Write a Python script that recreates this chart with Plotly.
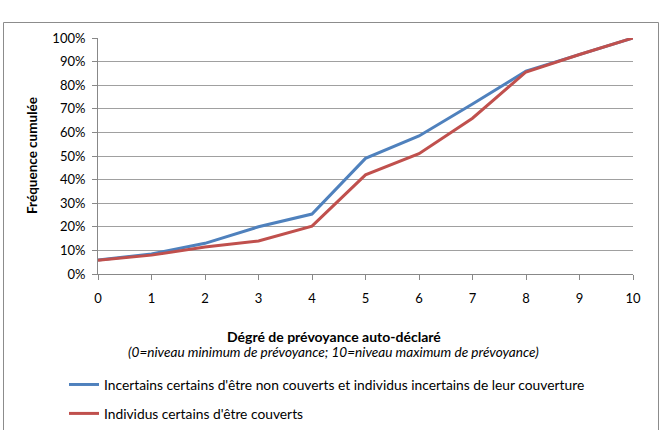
import plotly.graph_objects as go

x_vals = [0, 1, 2, 3, 4, 5, 6, 7, 8, 9, 10]
incertains = [5.9, 8.5, 13.0, 20.0, 25.4, 49.0, 58.5, 72.0, 86.0, 93.0, 100.0]
certains = [5.8, 8.0, 11.4, 14.0, 20.3, 42.0, 51.0, 66.0, 85.6, 93.0, 100.0]
name_incertains = "Incertains certains d'être non couverts et individus incertains de leur couverture"
name_certains = "Individus certains d'être couverts"
y_ticks = list(range(0, 101, 10))
y_ticklabels = [f"{v}%" for v in y_ticks]

FONT = "Lato"
W, H = 662, 430
L, R, T, B = 98, 633, 38, 274

fig = go.Figure()
fig.add_trace(go.Scatter(x=x_vals, y=incertains, mode="lines", name=name_incertains,
                         line=dict(color="#4F81BD", width=3), legendgroup="a"))
fig.add_trace(go.Scatter(x=x_vals, y=certains, mode="lines", name=name_certains,
                         line=dict(color="#C0504D", width=3), legendgroup="b"))

pw, ph = R - L, B - T
def px(xp):
    return (xp - L) / pw
def py(yp):
    return (B - yp) / ph

fig.update_layout(
    width=W, height=H,
    margin=dict(l=L, r=W - R, t=T, b=H - B, pad=0, autoexpand=False),
    paper_bgcolor="white", plot_bgcolor="white",
    font=dict(family=FONT, size=13, color="#000"),
    showlegend=True,
    legend=dict(x=px(64), y=py(369), xanchor="left", yanchor="top",
                orientation="v", itemwidth=30, tracegroupgap=8,
                font=dict(family=FONT, size=13.8), bgcolor="rgba(0,0,0,0)"),
    xaxis=dict(range=[0, 10], tickmode="array", tickvals=x_vals,
               ticks="outside", ticklen=5, tickcolor="#888", showgrid=False,
               showline=True, linecolor="#888", linewidth=1, zeroline=False,
               ticklabelstandoff=7, tickfont=dict(size=13)),
    yaxis=dict(range=[0, 100], tickmode="array", tickvals=y_ticks, ticktext=y_ticklabels,
               ticks="outside", ticklen=5, tickcolor="#888", showgrid=True,
               gridcolor="#A0A0A0", gridwidth=1, showline=True, linecolor="#888",
               zeroline=False, ticklabelstandoff=4, tickfont=dict(size=13)),
    shapes=[dict(type="rect", xref="paper", yref="paper",
                 x0=px(3.5), x1=px(658.5), y0=py(440), y1=py(22.5),
                 line=dict(color="#8C8C8C", width=1), layer="below")],
    annotations=[
        dict(text="<b>Dégré de prévoyance auto-déclaré</b>", xref="paper", yref="paper",
             x=px(334), y=py(336), xanchor="center", yanchor="middle", showarrow=False,
             font=dict(size=14)),
        dict(text="<i>(0=niveau minimum de prévoyance; 10=niveau maximum de prévoyance)</i>",
             xref="paper", yref="paper", x=px(333), y=py(352), xanchor="center",
             yanchor="middle", showarrow=False, font=dict(size=13.6)),
        dict(text="<b>Fréquence cumulée</b>", xref="paper", yref="paper",
             x=px(32), y=py(156), xanchor="center", yanchor="middle", textangle=-90,
             showarrow=False, font=dict(size=13.5)),
    ],
)

fig.write_html("out.html")
